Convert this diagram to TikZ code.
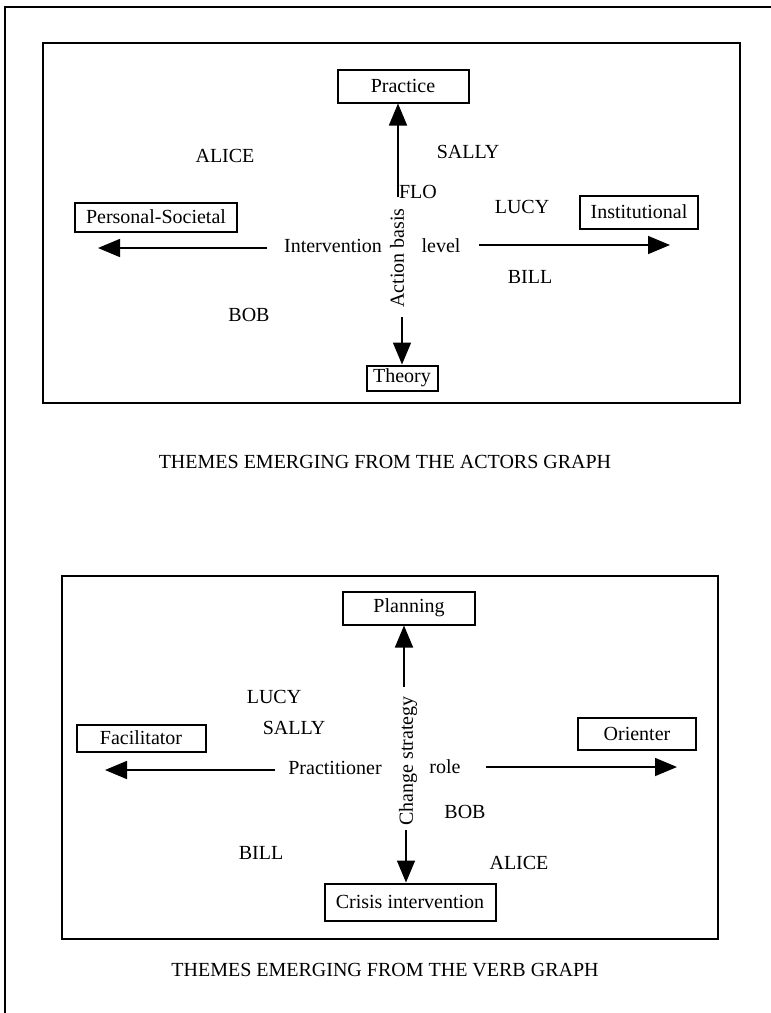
\documentclass[tikz,border=0pt]{standalone}
\usepackage{fontspec}
\setmainfont{Liberation Serif}
\usetikzlibrary{arrows.meta}
\usetikzlibrary{positioning}

\begin{document}
\begin{tikzpicture}[x=0.5pt, y=-0.5pt,
		box/.style={draw, line width=1pt, inner sep=0pt, font=\fontsize{10}{12}\selectfont},
		lbl/.style={inner sep=0pt, font=\fontsize{10}{12}\selectfont},
		arr/.style={line width=0.8pt, -{Triangle[width=9pt,length=11pt]}}]
				\useasboundingbox (0,0) rectangle (771,1013);
				\draw[line width=1pt] (5,1013) -- (5,7) -- (771,7);
				
				% actors graph
				\draw[line width=1pt] (43,43) rectangle (740,403);
				\node[box, minimum width=65.5pt, minimum height=16.5pt] (P) at (403,86) {Practice};
				\node[box, minimum width=35.5pt, minimum height=12.5pt] (T) at (402,378) {Theory};
				\node[box, minimum width=81pt, minimum height=14.5pt] (PS) at (156,217) {Personal-Societal};
				\node[box, minimum width=59pt, minimum height=16.5pt] (I) at (639,212) {Institutional};
				
				\node[lbl] (IV) at (333,246) {Intervention};
				\node[lbl] (LV) at (441,246) {level};
				\node[lbl, rotate=90] (AB) at (397,258) {Action basis};
				
				\coordinate (ab1) at (398,197);
				\coordinate (ab2) at (402,317);
				\coordinate (iv1) at (267,248);
				\coordinate (iv2) at (98,248);
				\coordinate (lv1) at (479,245);
				\coordinate (lv2) at (670,245);
				\draw[arr] (ab1) -- (ab1 |- P.south);
				\draw[arr] (ab2) -- (T.north);
				\draw[arr] (iv1) -- (iv2);
				\draw[arr] (lv1) -- (lv2);
				
				\node[lbl] (a1) at (225,156) {ALICE};
				\node[lbl] (a2) at (468,152) {SALLY};
				\node[lbl] (a3) at (418,192) {FLO};
				\node[lbl] (a4) at (522,207) {LUCY};
				\node[lbl] (a5) at (530,277) {BILL};
				\node[lbl] (a6) at (249,315) {BOB};
				
				\node[lbl] (C1) at (385,462) {THEMES EMERGING FROM THE ACTORS GRAPH};
				
				% verb graph
				\draw[line width=1pt] (62,576) rectangle (718,939);
				\node[box, minimum width=66pt, minimum height=16.5pt] (PL) at (409,608) {Planning};
				\node[box, minimum width=85.5pt, minimum height=18.5pt] (CI) at (410,902) {Crisis intervention};
				\node[box, minimum width=64.5pt, minimum height=13.5pt] (F) at (141,738) {Facilitator};
				\node[box, minimum width=59pt, minimum height=16pt] (O) at (637,734) {Orienter};
				
				\node[lbl] (PR) at (335,768) {Practitioner};
				\node[lbl] (RO) at (445,767) {role};
				\node[lbl, rotate=90] (CS) at (408,761) {Change strategy};
				
				\coordinate (cs1) at (404,687);
				\coordinate (cs2) at (406,830);
				\coordinate (pr1) at (275,770);
				\coordinate (pr2) at (105,770);
				\coordinate (ro1) at (486,767);
				\coordinate (ro2) at (677,767);
				\draw[arr] (cs1) -- (cs1 |- PL.south);
				\draw[arr] (cs2) -- (cs2 |- CI.north);
				\draw[arr] (pr1) -- (pr2);
				\draw[arr] (ro1) -- (ro2);
				
				\node[lbl] (b1) at (274,697) {LUCY};
				\node[lbl] (b2) at (294,728) {SALLY};
				\node[lbl] (b3) at (465,812) {BOB};
				\node[lbl] (b4) at (261,853) {BILL};
				\node[lbl] (b5) at (519,863) {ALICE};
				
				\node[lbl] (C2) at (385,970) {THEMES EMERGING FROM THE VERB GRAPH};
			\end{tikzpicture}
\end{document}
